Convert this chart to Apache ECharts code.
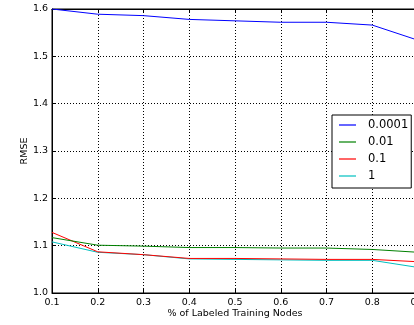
<!DOCTYPE html>
<html>
<head>
<meta charset="utf-8">
<script src="https://cdn.jsdelivr.net/npm/echarts@6/dist/echarts.min.js"></script>
<style>
  html, body { margin: 0; padding: 0; background: #fff; overflow: hidden; }
  #chart { width: 414px; height: 325px; }
</style>
</head>
<body>
<div id="chart"></div>
<script>
// Fraction of labeled training nodes (x axis categories)
const labeledFraction = ['0.1', '0.2', '0.3', '0.4', '0.5', '0.6', '0.7', '0.8', '0.9'];

// RMSE per regularization weight
const rmse_0_0001 = [1.600, 1.589, 1.586, 1.578, 1.575, 1.572, 1.572, 1.566, 1.534];
const rmse_0_01   = [1.117, 1.101, 1.099, 1.096, 1.096, 1.095, 1.095, 1.092, 1.086];
const rmse_0_1    = [1.128, 1.087, 1.081, 1.073, 1.073, 1.072, 1.071, 1.071, 1.066];
const rmse_1      = [1.108, 1.086, 1.081, 1.072, 1.071, 1.070, 1.069, 1.069, 1.054];

const seriesNames = ['0.0001', '0.01', '0.1', '1'];
const seriesColors = ['#0000ff', '#008000', '#ff0000', '#00bfbf'];
const seriesData = [rmse_0_0001, rmse_0_01, rmse_0_1, rmse_1];

const FONT = 'DejaVu Sans';

const chart = echarts.init(document.getElementById('chart'), null, { renderer: 'canvas' });

const gridLine = { show: true, lineStyle: { color: '#000', width: 1, type: [1, 2] } };

chart.setOption({
  animation: false,
  backgroundColor: '#fff',
  textStyle: { fontFamily: FONT },
  grid: {
    left: 52, top: 9, width: 366, height: 284,
    outerBoundsMode: 'none',
    containLabel: false,
    show: true, borderColor: '#000', borderWidth: 1, backgroundColor: 'transparent'
  },
  legend: {
    orient: 'vertical',
    left: 332, top: 115,
    padding: [3, 3, 5, 7],
    itemGap: 3,
    itemWidth: 17,
    itemHeight: 2,
    icon: 'rect',
    itemStyle: { opacity: 0.6 },
    backgroundColor: '#fff',
    borderColor: '#000',
    borderWidth: 1,
    borderRadius: 0,
    textStyle: { fontFamily: FONT, fontSize: 11.5, color: '#000', padding: [0, 0, 0, 7], lineHeight: 14 },
    data: seriesNames
  },
  xAxis: [{
    type: 'category',
    data: labeledFraction,
    boundaryGap: false,
    name: '% of Labeled Training Nodes',
    nameLocation: 'middle',
    nameGap: 16,
    nameMoveOverlap: false,
    nameTextStyle: { fontFamily: FONT, fontSize: 9.5, color: '#000', verticalAlign: 'top' },
    axisLine: { show: true, lineStyle: { color: '#000', width: 1 } },
    axisTick: { show: true, inside: true, length: 4, alignWithLabel: true, lineStyle: { color: '#000' } },
    axisLabel: { fontFamily: FONT, fontSize: 9.5, color: '#000', margin: 5, hideOverlap: false },
    splitLine: gridLine
  }, {
    type: 'category',
    data: labeledFraction,
    boundaryGap: false,
    position: 'top',
    axisLine: { show: true, lineStyle: { color: '#000', width: 1 } },
    axisTick: { show: true, inside: true, length: 4, lineStyle: { color: '#000' } },
    axisLabel: { show: false },
    splitLine: { show: false }
  }],
  yAxis: {
    type: 'value',
    min: 1.0, max: 1.6, interval: 0.1,
    name: 'RMSE',
    nameLocation: 'middle',
    nameGap: 22,
    nameMoveOverlap: false,
    nameTextStyle: { fontFamily: FONT, fontSize: 9.5, color: '#000' },
    axisLine: { show: true, lineStyle: { color: '#000', width: 1 } },
    axisTick: { show: true, inside: true, length: 4, lineStyle: { color: '#000' } },
    axisLabel: { fontFamily: FONT, fontSize: 9.5, color: '#000', margin: 4, formatter: v => v.toFixed(1) },
    splitLine: gridLine
  },
  series: seriesNames.map((name, i) => ({
    name: name,
    type: 'line',
    data: seriesData[i],
    symbol: 'none',
    color: seriesColors[i],
    lineStyle: { color: seriesColors[i], width: 1 },
    z: 10 - i
  }))
});
</script>
</body>
</html>
